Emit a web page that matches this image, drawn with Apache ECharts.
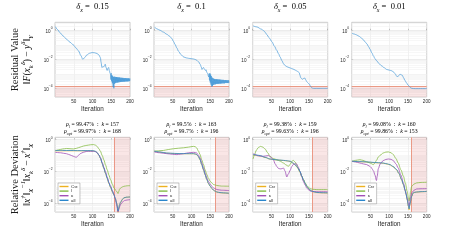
<!DOCTYPE html>
<html><head><meta charset="utf-8">
<script src="https://cdn.jsdelivr.net/npm/echarts@6/dist/echarts.min.js"></script>
<style>html,body{margin:0;padding:0;background:#fff}#c{width:458px;height:241px}</style>
</head><body><div id="c"></div>
<script>
// ---------------- data ----------------
const deltas = ['0.15', '0.1', '0.05', '0.01'];
const rhoL = ['99.47%', '99.5%', '99.38%', '99.08%'];
const kL = [157, 163, 159, 160];
const rhoOpt = ['99.97%', '99.7%', '99.63%', '99.86%'];
const kOpt = [168, 196, 196, 153];
const residualThreshold = [1.3e-4, 1.3e-4, 1.3e-4, 1.3e-4];
const seriesNames = ['C_se', 'l', 'κ', 'all'];
const yTickExp = [-4, -2, 0];

// residual ||F(x_k) - y||  [iteration, value]
const res1 = [[1,1.8],[7,1.1],[13,0.69],[22,0.4],[31,0.24],[40,0.15],[49,0.098],[56,0.06],[63,0.037],[69,0.018],[74,0.010],[79,0.013],[85,0.020],[92,0.026],[99,0.029],[106,0.028],[112,0.025],[117,0.02],[121,0.013],[123,0.006],[125,0.0027],[128,0.0032],[130,0.003],[132,0.0036],[134,0.0046],[136,0.0028],[139,0.0017],[141,0.0024],[143,0.0027],[145,0.0016],[147,0.0011],
  [148,9e-4],[149,4e-4],[150,1.1e-3],[151,3e-4],[152,8e-4],[153,2.2e-4],[154,7e-4],[155,1.2e-4],[156,6e-4],[157,1.0e-4],[158,6.3e-4],[159,2.0e-4],
  [160,6.2e-4],[161,2.3e-4],[162,6.0e-4],[163,2.4e-4],[164,5.9e-4],[165,2.5e-4],[166,5.8e-4],[167,2.5e-4],[168,5.7e-4],[169,2.6e-4],[170,5.6e-4],[171,2.6e-4],[172,5.5e-4],[173,2.7e-4],[174,5.4e-4],[175,2.7e-4],[176,5.3e-4],[177,2.8e-4],[178,5.3e-4],[179,2.8e-4],[180,5.2e-4],[181,2.8e-4],[182,5.2e-4],[183,2.9e-4],[184,5.1e-4],[185,2.9e-4],[186,5.1e-4],[187,2.9e-4],[188,5.0e-4],[189,3.0e-4],[190,5.0e-4],[191,3.0e-4],[192,4.9e-4],[193,3.0e-4],[194,4.9e-4],[195,3.0e-4],[196,4.8e-4],[197,3.1e-4],[198,4.8e-4],[199,3.1e-4],[200,4.7e-4]];
const res2 = [[1,1.7],[8,1.25],[16,1.0],[25,0.75],[34,0.53],[41,0.4],[47,0.28],[52,0.17],[56,0.107],[61,0.06],[65,0.037],[72,0.021],[79,0.0145],[86,0.0125],[92,0.0117],[99,0.011],[105,0.0105],[110,0.0097],[114,0.0085],[119,0.0066],[123,0.0046],[126,0.003],[128,0.002],[130,0.0024],[132,0.0027],[134,0.0022],[137,0.0017],[139,0.0019],[141,0.0012],[143,0.0011],[145,7e-4],[146,6e-4],
  [147,1.0e-3],[148,3.5e-4],[149,1.1e-3],[150,2.5e-4],[151,9e-4],[152,1.8e-4],[153,7e-4],[154,1.3e-4],[155,5.5e-4],[156,1.4e-4],[157,5e-4],[158,1.7e-4],[159,4.6e-4],[160,1.8e-4],[161,4.4e-4],[162,1.9e-4],[163,4.3e-4],[164,1.9e-4],[165,4.2e-4],[166,2.0e-4],[167,4.2e-4],[168,2.0e-4],[169,4.1e-4],[170,2.0e-4],[171,4.1e-4],[172,2.1e-4],[173,4.0e-4],[174,2.1e-4],[175,4.0e-4],[176,2.1e-4],[177,3.9e-4],[178,2.1e-4],[179,3.9e-4],[180,2.2e-4],[181,3.8e-4],[182,2.2e-4],[183,3.8e-4],[184,2.2e-4],[185,3.8e-4],[186,2.2e-4],[187,3.7e-4],[188,2.2e-4],[189,3.7e-4],[190,2.3e-4],[191,3.7e-4],[192,2.3e-4],[193,3.6e-4],[194,2.3e-4],[195,3.6e-4],[196,2.3e-4],[197,3.6e-4],[198,2.3e-4],[199,3.5e-4],[200,2.4e-4]];
const res3 = [[1,2.0],[11,1.7],[24,1.17],[31,0.85],[37,0.53],[44,0.3],[51,0.166],[58,0.08],[64,0.042],[69,0.024],[73,0.0145],[78,0.008],[82,0.005],[86,0.0038],[91,0.0031],[97,0.0027],[104,0.0023],[110,0.002],[117,0.0016],[121,0.0014],[124,0.0012],[126,8e-4],[128,5.5e-4],[131,4.5e-4],[133,4.2e-4],[136,4.8e-4],[139,5.1e-4],[141,4e-4],[144,2.9e-4],[148,2.3e-4],[151,1.9e-4],[154,1.4e-4],[157,1.1e-4],[160,1.02e-4],[162,1.0e-4],[180,1.0e-4],[200,1.0e-4]];
const res4 = [[1,0.62],[7,0.55],[13,0.48],[20,0.38],[27,0.28],[34,0.18],[40,0.12],[45,0.075],[49,0.049],[54,0.027],[58,0.017],[62,0.011],[67,0.0077],[73,0.005],[80,0.0035],[87,0.0026],[93,0.002],[100,0.0018],[107,0.0016],[112,0.0013],[116,0.001],[119,7.5e-4],[122,6e-4],[125,7.5e-4],[129,9.3e-4],[132,8.5e-4],[135,7.9e-4],[138,5.5e-4],[142,3.5e-4],[146,2.4e-4],[151,1.6e-4],[156,1.15e-4],[160,1.0e-4],[165,9.6e-5],[170,9.5e-5],[200,9.5e-5]];

// relative deviation, panel 1
const cse1 = [[1,0.2],[40,0.2],[95,0.2],[103,0.195],[108,0.18],[112,0.155],[117,0.105],[121,0.068],[126,0.031],[130,0.016],[135,0.0072],[139,0.0037],[144,0.0017],[148,0.001],[153,5.2e-4],[157,3.3e-4],[161,1.9e-4],[164,1.1e-4],[166,7e-5],[168,2.6e-5],[170,4.5e-5],[172,7.5e-5],[175,1.15e-4],[180,1.8e-4],[184,2.2e-4],[190,2.4e-4],[200,2.5e-4]];
const l1 = [[1,0.2],[10,0.23],[20,0.26],[31,0.28],[40,0.27],[49,0.26],[58,0.29],[67,0.34],[76,0.4],[85,0.44],[95,0.48],[103,0.49],[108,0.45],[112,0.38],[117,0.27],[121,0.19],[126,0.1],[130,0.055],[135,0.025],[139,0.013],[144,0.0058],[148,0.0031],[153,0.0016],[157,9.2e-4],[162,6.5e-4],[166,5e-4],[168,4.1e-4],[170,5.5e-4],[172,7.5e-4],[175,9.2e-4],[180,1.08e-3],[184,1.17e-3],[192,1.25e-3],[200,1.29e-3]];
const kappa1 = [[1,0.16],[15,0.15],[31,0.13],[40,0.11],[49,0.09],[55,0.08],[58,0.081],[62,0.1],[67,0.13],[75,0.16],[85,0.185],[95,0.185],[103,0.185],[108,0.175],[112,0.15],[117,0.11],[121,0.075],[126,0.036],[130,0.019],[135,0.009],[139,0.0045],[144,0.002],[148,0.0012],[153,6.5e-4],[157,3.5e-4],[161,1.8e-4],[164,9e-5],[166,5e-5],[168,2.8e-5],[170,4e-5],[172,6e-5],[176,9e-5],[180,1.2e-4],[186,1.5e-4],[192,1.6e-4],[200,1.7e-4]];
const all1 = [[1,0.21],[20,0.21],[40,0.21],[60,0.205],[80,0.205],[95,0.205],[103,0.2],[108,0.185],[112,0.16],[117,0.11],[121,0.071],[126,0.032],[130,0.0166],[135,0.0075],[139,0.0039],[144,0.0018],[148,0.00107],[153,5.5e-4],[157,3.5e-4],[161,2e-4],[164,1.1e-4],[166,7e-5],[168,3.2e-5],[170,5e-5],[172,8e-5],[175,1.2e-4],[180,1.8e-4],[184,2.2e-4],[190,2.4e-4],[200,2.5e-4]];
// panel 2
const cse2 = [[1,0.185],[15,0.165],[34,0.142],[55,0.134],[79,0.13],[95,0.13],[105,0.13],[110,0.124],[114,0.113],[118,0.088],[123,0.053],[127,0.027],[132,0.0125],[136,0.0063],[141,0.003],[145,0.00175],[150,0.00114],[155,8.1e-4],[159,6.5e-4],[164,5.5e-4],[168,5.0e-4],[176,4.6e-4],[186,4.4e-4],[200,4.2e-4]];
const l2 = [[1,0.19],[12,0.2],[25,0.21],[38,0.24],[52,0.27],[65,0.29],[79,0.31],[92,0.34],[105,0.38],[110,0.36],[114,0.3],[118,0.2],[123,0.115],[127,0.055],[132,0.027],[136,0.013],[141,0.0063],[145,0.0038],[150,0.0024],[155,0.0018],[159,0.0015],[164,0.0014],[168,0.0013],[180,0.0012],[200,0.00118]];
const kappa2 = [[1,0.17],[15,0.15],[34,0.132],[50,0.12],[61,0.115],[70,0.122],[79,0.132],[92,0.15],[105,0.16],[110,0.155],[114,0.145],[118,0.11],[123,0.07],[127,0.036],[132,0.0166],[136,0.0082],[141,0.0039],[145,0.0024],[150,0.0016],[155,0.0011],[159,9.2e-4],[164,8e-4],[168,7.2e-4],[180,6.6e-4],[200,6.3e-4]];
const all2 = [[1,0.19],[15,0.17],[34,0.145],[55,0.137],[79,0.132],[95,0.132],[105,0.132],[110,0.126],[114,0.115],[118,0.09],[123,0.055],[127,0.028],[132,0.013],[136,0.0065],[141,0.0031],[145,0.0018],[150,0.00117],[155,8.3e-4],[159,6.6e-4],[164,5.6e-4],[168,5.1e-4],[176,4.7e-4],[186,4.5e-4],[200,4.3e-4]];
// panel 3
const cse3 = [[1,0.105],[10,0.1],[20,0.095],[33,0.076],[46,0.06],[60,0.054],[82,0.049],[92,0.046],[100,0.043],[108,0.033],[113,0.026],[117,0.02],[122,0.0145],[126,0.0098],[131,0.0048],[135,0.003],[140,0.00175],[144,0.00114],[149,8.3e-4],[153,6.6e-4],[160,5.4e-4],[171,4.7e-4],[185,4.5e-4],[200,4.4e-4]];
const l3 = [[1,0.06],[5,0.12],[10,0.22],[15,0.32],[21,0.38],[27,0.34],[33,0.26],[40,0.15],[46,0.09],[55,0.065],[64,0.055],[73,0.045],[82,0.034],[89,0.026],[95,0.021],[100,0.028],[104,0.042],[108,0.05],[113,0.04],[117,0.027],[121,0.016],[126,0.0089],[131,0.0052],[135,0.0031],[140,0.0019],[144,0.0013],[149,0.001],[153,8.3e-4],[160,7.6e-4],[171,7.2e-4],[200,7.2e-4]];
const kappa3 = [[1,0.13],[6,0.12],[12,0.1],[20,0.092],[28,0.09],[35,0.095],[42,0.1],[48,0.08],[55,0.055],[60,0.03],[64,0.021],[68,0.016],[73,0.0145],[78,0.015],[82,0.0166],[86,0.011],[91,0.0045],[95,0.007],[100,0.0118],[104,0.02],[108,0.027],[113,0.03],[117,0.03],[121,0.02],[126,0.0102],[131,0.0048],[135,0.0024],[140,0.0014],[144,9.2e-4],[149,7e-4],[153,5.9e-4],[160,5.5e-4],[171,5.3e-4],[200,5.3e-4]];
const all3 = [[1,0.115],[10,0.108],[20,0.1],[33,0.078],[46,0.061],[60,0.055],[82,0.05],[92,0.047],[100,0.044],[108,0.034],[113,0.027],[117,0.021],[122,0.015],[126,0.0102],[131,0.005],[135,0.0031],[140,0.0018],[144,0.00117],[149,8.5e-4],[153,6.8e-4],[160,5.5e-4],[171,4.8e-4],[185,4.6e-4],[200,4.5e-4]];
// panel 4
const cse4 = [[1,0.043],[20,0.041],[40,0.039],[60,0.036],[84,0.033],[95,0.029],[102,0.026],[110,0.02],[120,0.0125],[126,0.0072],[133,0.003],[138,0.00145],[142,7e-4],[145,3.6e-4],[148,1.6e-4],[151,6.5e-5],[153,3.8e-5],[155,7.5e-5],[157,1.3e-4],[160,2.7e-4],[164,4.4e-4],[168,4.8e-4],[173,5.0e-4],[185,5.3e-4],[200,5.5e-4]];
const l4 = [[1,0.044],[10,0.05],[22,0.055],[30,0.05],[36,0.044],[43,0.038],[49,0.034],[58,0.027],[62,0.035],[66,0.05],[71,0.081],[77,0.11],[84,0.145],[91,0.165],[98,0.17],[105,0.15],[111,0.115],[118,0.065],[124,0.034],[131,0.013],[138,0.005],[143,0.0019],[148,5.6e-4],[151,2.2e-4],[153,1.35e-4],[155,2.5e-4],[157,5.5e-4],[160,1.17e-3],[166,1.6e-3],[173,1.9e-3],[185,2.05e-3],[200,2.1e-3]];
const kappa4 = [[1,0.044],[10,0.04],[22,0.034],[31,0.03],[40,0.027],[47,0.022],[53,0.0166],[58,0.011],[62,0.006],[66,0.0027],[68,0.005],[71,0.015],[76,0.03],[84,0.048],[91,0.057],[98,0.061],[105,0.058],[111,0.048],[118,0.03],[124,0.0166],[131,0.006],[138,0.0019],[143,6e-4],[148,2.2e-4],[151,1e-4],[153,6.5e-5],[155,1.2e-4],[157,2.5e-4],[160,4.5e-4],[166,6.5e-4],[173,7.9e-4],[185,8.2e-4],[200,8.3e-4]];
const all4 = [[1,0.044],[20,0.042],[40,0.04],[60,0.037],[84,0.034],[95,0.03],[102,0.027],[110,0.021],[120,0.013],[126,0.0075],[133,0.0031],[138,0.0015],[142,7.2e-4],[145,3.8e-4],[148,1.7e-4],[151,7e-5],[153,4.4e-5],[155,8e-5],[157,1.35e-4],[160,2.8e-4],[164,4.5e-4],[168,4.9e-4],[173,5.1e-4],[185,5.4e-4],[200,5.6e-4]];

const residuals = [res1, res2, res3, res4];
const deviations = [[cse1, l1, kappa1, all1], [cse2, l2, kappa2, all2], [cse3, l3, kappa3, all3], [cse4, l4, kappa4, all4]];

// ---------------- layout / style ----------------
const colLeft = [55, 154, 252.7, 351.7];
const plotW = 75, plotH = 74.7;
const rowTop = [22.3, 137.3];
const yRange = [[-4.6, 0.55], [-4.55, 0.15]];
const serif = "'Liberation Serif', 'DejaVu Serif', serif";
const sans = "'Liberation Sans', Arial, sans-serif";
const devColors = ['#edb120', '#86bb45', '#a150b6', '#2a86cc'];
const resColor = '#3a93d6';
const bandFill = 'rgba(232,140,140,0.22)';
const bandLine = '#eb9c86';

const conv = arr => arr.map(p => [p[0], Math.log10(p[1])]);

function gridLines(r) {
  const [lo, hi] = yRange[r];
  const out = [];
  for (let n = -5; n <= 0; n++) {
    for (let k = 1; k <= 9; k++) {
      const v = n + Math.log10(k);
      if (v <= lo + 0.01 || v >= hi - 0.01) continue;
      const major = (k === 1 && n % 2 === 0);
      out.push({ yAxis: v, lineStyle: { color: major ? '#d9d9d9' : '#eeeeee', width: 0.5, type: 'solid' } });
    }
  }
  return out;
}

const option = { animation: false, grid: [], xAxis: [], yAxis: [], series: [], legend: [], graphic: [] };
const supRich = {
  b: { fontSize: 4.6, color: '#262626', fontFamily: sans, verticalAlign: 'bottom', lineHeight: 7 },
  s: { fontSize: 3.3, color: '#262626', fontFamily: sans, verticalAlign: 'top', lineHeight: 7 }
};

for (let r = 0; r < 2; r++) {
  for (let c = 0; c < 4; c++) {
    const gi = r * 4 + c;
    option.grid.push({ left: colLeft[c], top: rowTop[r], width: plotW, height: plotH, show: true,
      borderColor: '#a8a8a8', borderWidth: 0.6, backgroundColor: 'transparent' });
    option.xAxis.push({ type: 'value', gridIndex: gi, min: 0, max: 200, interval: 50,
      axisLine: { show: false },
      axisTick: { show: true, inside: true, length: 1.5, lineStyle: { color: '#8a8a8a', width: 0.5 } },
      axisLabel: { fontSize: 4.6, color: '#262626', fontFamily: sans, margin: 2.5, formatter: v => v === 0 ? '' : String(v) },
      splitLine: { show: true, lineStyle: { color: '#e2e2e2', width: 0.5 } },
      name: 'Iteration', nameLocation: 'middle', nameGap: 9.5,
      nameTextStyle: { fontSize: 6.3, color: '#262626', fontFamily: sans } });
    option.yAxis.push({ type: 'value', gridIndex: gi, min: yRange[r][0], max: yRange[r][1],
      axisLine: { show: false },
      axisTick: { show: true, inside: true, length: 1.5, customValues: yTickExp, lineStyle: { color: '#8a8a8a', width: 0.5 } },
      axisLabel: { customValues: yTickExp, margin: 2.5, formatter: v => '{b|10}{s|' + (v < 0 ? '−' : '') + Math.abs(v) + '}', rich: supRich },
      splitLine: { show: false } });

    // helper series carrying grid lines and the red acceptance band
    const lines = gridLines(r);
    let area;
    if (r === 0) {
      const t = Math.log10(residualThreshold[c]);
      lines.push({ yAxis: t, lineStyle: { color: bandLine, width: 1, type: 'solid' } });
      area = [[{ yAxis: yRange[r][0] }, { yAxis: t }]];
    } else {
      lines.push({ xAxis: kL[c], lineStyle: { color: bandLine, width: 1, type: 'solid' } });
      area = [[{ xAxis: kL[c] }, { xAxis: 200 }]];
    }
    option.series.push({ type: 'line', xAxisIndex: gi, yAxisIndex: gi, data: [[0, yRange[r][0]]],
      showSymbol: false, symbol: 'none', lineStyle: { opacity: 0 }, silent: true, z: 1,
      markLine: { silent: true, z: 1.5, symbol: ['none', 'none'], label: { show: false }, animation: false, data: lines },
      markArea: { silent: true, z: 2, itemStyle: { color: bandFill, opacity: 1 }, data: area } });

    if (r === 0) {
      option.series.push({ type: 'line', name: 'residual', xAxisIndex: gi, yAxisIndex: gi, data: conv(residuals[c]),
        showSymbol: false, symbol: 'none', smooth: 0.3, smoothMonotone: 'x', z: 3,
        lineStyle: { color: resColor, width: 0.65 } });
    } else {
      deviations[c].forEach((d, si) => {
        option.series.push({ type: 'line', name: seriesNames[si], xAxisIndex: gi, yAxisIndex: gi, data: conv(d),
          showSymbol: false, symbol: 'none', smooth: 0.3, smoothMonotone: 'x', z: 3 + si,
          color: devColors[si], lineStyle: { color: devColors[si], width: 0.8 } });
      });
      option.legend.push({ data: seriesNames, orient: 'vertical', left: colLeft[c] + 3, top: 183,
        itemWidth: 9, itemHeight: 1.4, itemGap: 0.6, icon: 'rect', selectedMode: false,
        padding: [1.5, 2.5, 1.5, 1.5], backgroundColor: '#fff', borderColor: '#8c8c8c', borderWidth: 0.5,
        formatter: n => n === 'C_se' ? '{a|C}{b|se}' : n,
        textStyle: { fontSize: 4.4, color: '#262626', fontFamily: sans, padding: [0, 0, 0, -2.5],
          rich: { a: { fontSize: 4.4, fontFamily: sans, color: '#262626' }, b: { fontSize: 3.1, fontFamily: sans, color: '#262626', verticalAlign: 'bottom' } } } });
    }
  }
}

// ---------- text: titles, rho lines, row labels ----------
const mathRich = (fs) => ({
  n: { fontSize: fs, fontFamily: serif, color: '#1a1a1a', verticalAlign: 'middle', lineHeight: fs * 1.6 },
  i: { fontSize: fs, fontFamily: serif, fontStyle: 'italic', color: '#1a1a1a', verticalAlign: 'middle', lineHeight: fs * 1.6 },
  sb: { fontSize: fs * 0.7, fontFamily: serif, fontStyle: 'italic', color: '#1a1a1a', verticalAlign: 'bottom', lineHeight: fs * 1.6 },
  sp: { fontSize: fs * 0.7, fontFamily: serif, fontStyle: 'italic', color: '#1a1a1a', verticalAlign: 'top', lineHeight: fs * 1.6 }
});
for (let c = 0; c < 4; c++) {
  const cx = colLeft[c] + plotW / 2;
  option.graphic.push({ type: 'text', x: cx, y: 7, silent: true,
    style: { text: '{i|δ}{sb|x}{n| =  ' + deltas[c] + '}', align: 'center', verticalAlign: 'middle', rich: mathRich(8.5) } });
  option.graphic.push({ type: 'text', x: cx, y: 124.5, silent: true,
    style: { text: '{i|ρ}{sb|l}{n| = ' + rhoL[c] + '  :  }{i|k}{n| = ' + kL[c] + '}', align: 'center', verticalAlign: 'middle', rich: mathRich(5.8) } });
  option.graphic.push({ type: 'text', x: cx, y: 131, silent: true,
    style: { text: '{i|ρ}{sb|opt}{n| = ' + rhoOpt[c] + '  :  }{i|k}{n| = ' + kOpt[c] + '}', align: 'center', verticalAlign: 'middle', rich: mathRich(5.8) } });
}
const rowLabels = [
  { title: 'Residual Value', formula: '{n|‖}{i|F}{n|(}{i|x}{sb|k}{sp|δ}{n|) − }{i|y}{sp|δ}{n|‖}{sb|Y}' },
  { title: 'Relative Deviation', formula: '{n|‖}{i|x}{sp|†}{n|‖}{sb|X}{sp|−1}{n|‖}{i|x}{sb|k}{sp|δ}{n| − }{i|x}{sp|†}{n|‖}{sb|X}' }
];
rowLabels.forEach((lab, r) => {
  const cy = rowTop[r] + plotH / 2;
  option.graphic.push({ type: 'text', x: 15.5, y: cy, rotation: Math.PI / 2, silent: true,
    style: { text: lab.title, align: 'center', verticalAlign: 'middle', fontSize: 10.5, fontFamily: serif, fill: '#1a1a1a' } });
  option.graphic.push({ type: 'text', x: 27, y: cy, rotation: Math.PI / 2, silent: true,
    style: { text: lab.formula, align: 'center', verticalAlign: 'middle', rich: mathRich(9.5) } });
});

const chart = echarts.init(document.getElementById('c'), null, { renderer: 'canvas' });
chart.setOption(option);
</script>
</body></html>
